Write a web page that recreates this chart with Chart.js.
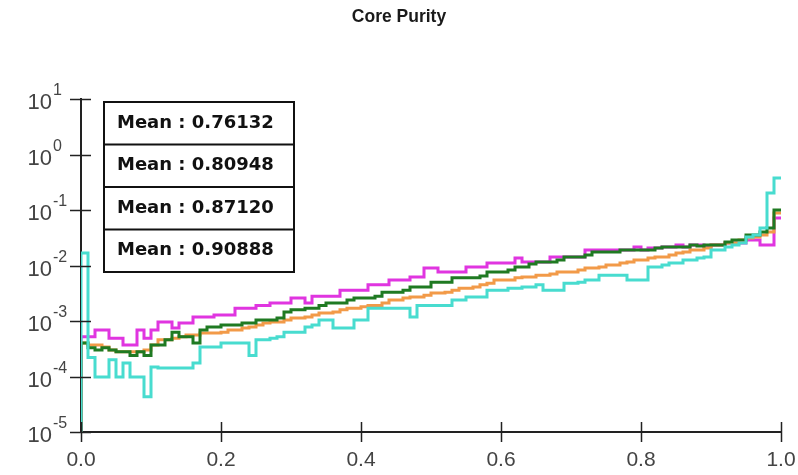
<!DOCTYPE html>
<html><head><meta charset="utf-8">
<script src="https://cdn.jsdelivr.net/npm/chart.js@4.4.1/dist/chart.umd.min.js"></script>
<style>html,body{margin:0;padding:0;background:#fff;}#wrap{width:798px;height:475px;}</style>
</head><body><div id="wrap"><canvas id="c" width="798" height="475"></canvas></div>
<script>
const chartTitle = 'Core Purity';
const meanLabels = ['Mean : 0.76132', 'Mean : 0.80948', 'Mean : 0.87120', 'Mean : 0.90888'];
const binEdges = [0.00,0.01,0.02,0.03,0.04,0.05,0.06,0.07,0.08,0.09,
  0.10,0.11,0.12,0.13,0.14,0.15,0.16,0.17,0.18,0.19,
  0.20,0.21,0.22,0.23,0.24,0.25,0.26,0.27,0.28,0.29,
  0.30,0.31,0.32,0.33,0.34,0.35,0.36,0.37,0.38,0.39,
  0.40,0.41,0.42,0.43,0.44,0.45,0.46,0.47,0.48,0.49,
  0.50,0.51,0.52,0.53,0.54,0.55,0.56,0.57,0.58,0.59,
  0.60,0.61,0.62,0.63,0.64,0.65,0.66,0.67,0.68,0.69,
  0.70,0.71,0.72,0.73,0.74,0.75,0.76,0.77,0.78,0.79,
  0.80,0.81,0.82,0.83,0.84,0.85,0.86,0.87,0.88,0.89,
  0.90,0.91,0.92,0.93,0.94,0.95,0.96,0.97,0.98,0.99,1.00];
const magentaValues = [
  0.00052,0.00052,0.00069,0.00069,0.00049,0.00049,0.00037,0.00037,0.00069,0.00049,
  0.00069,0.00096,0.00096,0.00075,0.00092,0.00092,0.00118,0.00118,0.00118,0.00128,
  0.00128,0.00128,0.0017,0.0017,0.0017,0.0019,0.0019,0.0021,0.0021,0.0021,
  0.0026,0.0026,0.0021,0.0028,0.0028,0.0028,0.0028,0.0036,0.0036,0.0036,
  0.0036,0.0045,0.0045,0.0045,0.0055,0.0055,0.0055,0.0062,0.0062,0.0090,
  0.0090,0.0076,0.0076,0.0076,0.0076,0.0094,0.0094,0.0094,0.0111,0.0111,
  0.0111,0.0111,0.0137,0.0116,0.0116,0.0116,0.0116,0.0142,0.0142,0.0142,
  0.0142,0.0142,0.0190,0.0190,0.0190,0.0190,0.0190,0.0190,0.0190,0.0216,
  0.0190,0.0207,0.0207,0.0216,0.0216,0.0234,0.0216,0.0234,0.0234,0.0216,
  0.0234,0.0234,0.0254,0.0254,0.0254,0.0288,0.0288,0.0234,0.0234,0.0718];
const greenValues = [
  0.00040,0.00033,0.00030,0.00033,0.00030,0.00028,0.00028,0.00024,0.00028,0.00024,
  0.00037,0.00037,0.00046,0.00063,0.00052,0.00052,0.00040,0.00069,0.00078,0.00078,
  0.00085,0.00085,0.00085,0.00092,0.00092,0.00104,0.00104,0.00104,0.00113,0.00145,
  0.0016,0.0016,0.0017,0.0017,0.0019,0.0021,0.0021,0.0021,0.0024,0.0026,
  0.0026,0.0026,0.0028,0.0033,0.0033,0.0033,0.0036,0.0041,0.0041,0.0041,
  0.0050,0.0050,0.0050,0.0060,0.0060,0.0060,0.0060,0.0065,0.0076,0.0076,
  0.0076,0.0083,0.0094,0.0094,0.0106,0.0116,0.0116,0.0116,0.0126,0.0142,
  0.0142,0.0142,0.0155,0.0175,0.0175,0.0175,0.0175,0.0190,0.0190,0.0190,
  0.0190,0.0190,0.0207,0.0216,0.0216,0.0216,0.0216,0.0234,0.0225,0.0234,
  0.0234,0.0234,0.0265,0.0288,0.0288,0.0355,0.0355,0.0402,0.0474,0.100];
const orangeValues = [
  0.00040,0.00037,0.00037,0.00034,0.00030,0.00028,0.00028,0.00028,0.00028,0.00030,
  0.00037,0.00046,0.00046,0.00049,0.00052,0.00056,0.00056,0.00061,0.00061,0.00061,
  0.00063,0.00069,0.00069,0.00075,0.00078,0.00085,0.00092,0.00096,0.00096,0.00104,
  0.00113,0.00113,0.00118,0.00128,0.00139,0.00139,0.00145,0.0016,0.0017,0.0017,
  0.0018,0.0019,0.0019,0.0021,0.0024,0.0024,0.0026,0.0027,0.0027,0.0029,
  0.0032,0.0032,0.0033,0.0036,0.0039,0.0039,0.0041,0.0045,0.0048,0.0055,
  0.0055,0.0055,0.0060,0.0062,0.0062,0.0067,0.0067,0.0070,0.0076,0.0076,
  0.0076,0.0083,0.0090,0.0090,0.0094,0.0102,0.0102,0.0111,0.0116,0.0126,
  0.0126,0.0137,0.0142,0.0142,0.0155,0.0168,0.0175,0.0190,0.0190,0.0207,
  0.0234,0.0234,0.0254,0.0254,0.0288,0.0313,0.0327,0.0355,0.0402,0.0883];
const cyanValues = [
  0.0168,0.00022,0.000098,0.000098,0.00020,0.000098,0.000175,0.000098,0.000098,0.000043,
  0.000148,0.000142,0.000142,0.000142,0.000142,0.000142,0.000175,0.00034,0.00034,0.00034,
  0.00040,0.00040,0.00040,0.00040,0.00024,0.00046,0.00046,0.00049,0.00052,0.00063,
  0.00063,0.00063,0.00078,0.00085,0.00104,0.00104,0.00075,0.00075,0.00075,0.00104,
  0.00104,0.0017,0.0017,0.0017,0.0017,0.0017,0.0017,0.00118,0.0019,0.0019,
  0.0019,0.0019,0.0019,0.0024,0.0024,0.0027,0.0027,0.0027,0.0036,0.0036,
  0.0036,0.0039,0.0039,0.0041,0.0041,0.0045,0.0036,0.0036,0.0036,0.0048,
  0.0048,0.0050,0.0055,0.0055,0.0067,0.0067,0.0067,0.0067,0.0055,0.0055,
  0.0055,0.0094,0.0094,0.0102,0.0111,0.0111,0.0126,0.0126,0.0137,0.0142,
  0.0190,0.0190,0.0216,0.0234,0.0254,0.0327,0.0355,0.0474,0.2025,0.377];
const xTickValues = [0, 0.2, 0.4, 0.6, 0.8, 1.0];
const xTickLabels = ['0.0', '0.2', '0.4', '0.6', '0.8', '1.0'];
const yTickValues = [10, 1, 0.1, 0.01, 0.001, 0.0001, 0.00001];
const yTickExponents = ['1', '0', '-1', '-2', '-3', '-4', '-5'];
const yMin = 0.00001, yMax = 10;

function histPoints(values) {
  const pts = [{x: binEdges[0], y: yMin}];
  values.forEach((v, i) => pts.push({x: binEdges[i], y: v}));
  pts.push({x: binEdges[values.length], y: values[values.length - 1]});
  return pts;
}

const AXIS = '#222';
const crossTicks = {
  id: 'crossTicks',
  afterDatasetsDraw(chart) {
    const {ctx, chartArea: a, scales: {x, y}} = chart;
    ctx.save();
    ctx.strokeStyle = AXIS; ctx.lineWidth = 1.5;
    ctx.beginPath();
    xTickValues.forEach(v => { const p = Math.round(x.getPixelForValue(v)) + 0.5; ctx.moveTo(p, a.bottom - 10); ctx.lineTo(p, a.bottom + 10); });
    yTickValues.forEach(v => { const p = Math.round(y.getPixelForValue(v)) + 0.5; ctx.moveTo(a.left - 11, p); ctx.lineTo(a.left + 10, p); });
    ctx.stroke();
    ctx.restore();
  },
  afterDraw(chart) {
    const {ctx, scales: {y}} = chart;
    ctx.save();
    ctx.fillStyle = '#444';
    yTickValues.forEach((v, i) => {
      const p = y.getPixelForValue(v);
      ctx.font = '22px "Liberation Sans", Arial, sans-serif';
      ctx.textAlign = 'right'; ctx.textBaseline = 'middle';
      ctx.fillText('10', 52, p + 4);
      ctx.font = '16px "Liberation Sans", Arial, sans-serif';
      ctx.textAlign = 'left';
      ctx.fillText(yTickExponents[i], 53, p - 8);
    });
    // mean box
    const bx = 104, by = 102, bw = 190, rh = 42.5;
    ctx.fillStyle = '#fff';
    ctx.fillRect(bx, by, bw, rh * meanLabels.length);
    ctx.strokeStyle = '#111'; ctx.lineWidth = 2;
    ctx.strokeRect(bx, by, bw, rh * meanLabels.length);
    ctx.beginPath();
    for (let i = 1; i < meanLabels.length; i++) { ctx.moveTo(bx, by + rh * i); ctx.lineTo(bx + bw, by + rh * i); }
    ctx.stroke();
    ctx.fillStyle = '#111';
    ctx.font = 'bold 18px "DejaVu Sans", sans-serif';
    ctx.textAlign = 'left'; ctx.textBaseline = 'middle';
    meanLabels.forEach((t, i) => ctx.fillText(t, bx + 13, by + rh * i + rh / 2));
    ctx.restore();
  }
};

const ds = (label, values, color, width, order) => ({
  label, data: histPoints(values), borderColor: color, backgroundColor: color,
  borderWidth: width, pointRadius: 0, stepped: true, fill: false, order
});

new Chart(document.getElementById('c'), {
  type: 'line',
  data: {
    datasets: [
      ds(meanLabels[0], magentaValues, '#e035e0', 3, 3),
      ds(meanLabels[1], greenValues, '#1f7a22', 3, 1),
      ds(meanLabels[2], orangeValues, '#f29a48', 3, 2),
      ds(meanLabels[3], cyanValues, '#48dccf', 3, 0)
    ]
  },
  options: {
    responsive: false, animation: false, devicePixelRatio: 1,
    layout: {padding: 0},
    plugins: {
      legend: {display: false},
      tooltip: {enabled: false},
      title: {display: true, text: chartTitle, color: '#1a1a1a',
        font: {family: '"Liberation Sans", Arial, sans-serif', size: 17.5, weight: 'bold'},
        padding: {top: 7, bottom: 71}}
    },
    scales: {
      x: {
        type: 'linear', min: 0, max: 1,
        afterBuildTicks: s => { s.ticks = xTickValues.map(v => ({value: v})); },
        afterFit: s => { s.height = 43; s.paddingRight = 17; s.paddingLeft = 0; },
        grid: {display: false},
        border: {display: true, color: AXIS, width: 2},
        ticks: {color: '#444', padding: 8, maxRotation: 0,
          font: {family: '"Liberation Sans", Arial, sans-serif', size: 21},
          callback: v => xTickLabels[xTickValues.indexOf(v)]}
      },
      y: {
        type: 'logarithmic', min: yMin, max: yMax,
        afterBuildTicks: s => { s.ticks = yTickValues.map(v => ({value: v})); },
        afterFit: s => { s.width = 81; s.paddingTop = 0; s.paddingBottom = 0; },
        grid: {display: false},
        border: {display: true, color: AXIS, width: 2},
        ticks: {display: false}
      }
    }
  },
  plugins: [crossTicks]
});
</script></body></html>
